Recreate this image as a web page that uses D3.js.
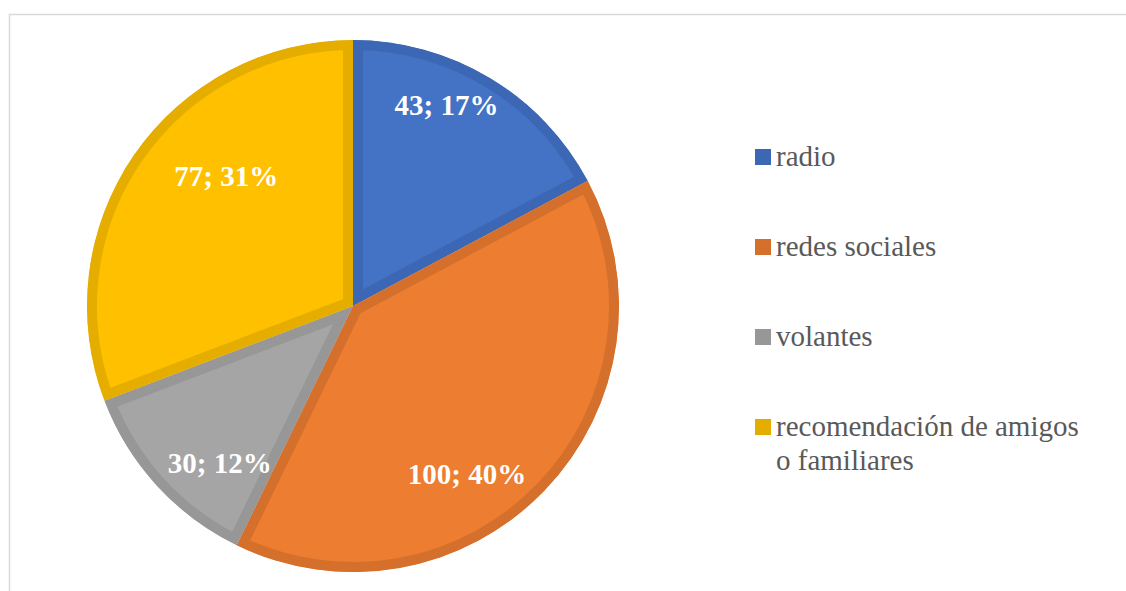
<!DOCTYPE html>
<html>
<head>
<meta charset="utf-8">
<script src="https://cdn.jsdelivr.net/npm/d3@7"></script>
<style>
  body { margin: 0; background: #fff; }
  svg { display: block; }
</style>
</head>
<body>
<svg id="chart"></svg>
<script>
// data
const categories = ["radio", "redes sociales", "volantes", "recomendación de amigos o familiares"];
const values = [43, 100, 30, 77];
const percents = ["17%", "40%", "12%", "31%"];
const legendLines = [["radio"], ["redes sociales"], ["volantes"], ["recomendación de amigos", "o familiares"]];

const fills = ["#4472C4", "#ED7D31", "#A5A5A5", "#FFC000"];
const strokes = ["#3C67B4", "#D5702C", "#979797", "#E5AD00"];

// label placement tweaks (angle shift in degrees, radius fraction), like Excel's best fit
const labelShift = [-6, 11.9, -7.2, 11.3];
const labelRadius = [0.833, 0.763, 0.774, 0.684];

const width = 1126, height = 591;
const cx = 353, cy = 306, r = 266;
const serif = "'Liberation Serif', 'Times New Roman', Times, serif";

const svg = d3.select("#chart").attr("width", width).attr("height", height);

// chart frame
svg.append("rect")
  .attr("x", 9.5).attr("y", 14.5)
  .attr("width", width + 20).attr("height", height + 20)
  .attr("fill", "none")
  .attr("stroke", "#d9d9d9")
  .attr("stroke-width", 1.5);

const pie = d3.pie().sort(null).value(d => d.value);
const arc = d3.arc().innerRadius(0).outerRadius(r);
const data = categories.map((c, i) => ({ name: c, value: values[i], i: i }));
const arcs = pie(data);

const g = svg.append("g").attr("transform", `translate(${cx},${cy})`);

const defs = svg.append("defs");
defs.selectAll("clipPath")
  .data(arcs)
  .join("clipPath")
  .attr("id", d => "clip" + d.data.i)
  .append("path")
  .attr("d", arc);

// slices with inner border (stroke clipped to the slice)
g.selectAll("path.slice")
  .data(arcs)
  .join("path")
  .attr("class", "slice")
  .attr("d", arc)
  .attr("fill", d => fills[d.data.i])
  .attr("stroke", d => strokes[d.data.i])
  .attr("stroke-width", 20)
  .attr("stroke-linejoin", "miter")
  .attr("clip-path", d => `url(#clip${d.data.i})`);

// data labels
g.selectAll("text.lbl")
  .data(arcs)
  .join("text")
  .attr("class", "lbl")
  .attr("transform", d => {
    const a = (d.startAngle + d.endAngle) / 2 + labelShift[d.data.i] * Math.PI / 180;
    const p = d3.pointRadial(a, r * labelRadius[d.data.i]);
    return `translate(${p[0]},${p[1]})`;
  })
  .attr("text-anchor", "middle")
  .attr("dy", "0.35em")
  .attr("fill", "#fff")
  .style("font-family", serif)
  .style("font-weight", "bold")
  .style("font-size", "29px")
  .text(d => `${d.data.value}; ${percents[d.data.i]}`);

// legend
const legend = svg.append("g").attr("transform", "translate(755,149)");
const rowGap = 90, lineGap = 34.5, box = 16;

const items = legend.selectAll("g")
  .data(categories)
  .join("g")
  .attr("transform", (d, i) => `translate(0,${i * rowGap})`);

items.append("rect")
  .attr("width", box).attr("height", box)
  .attr("fill", (d, i) => strokes[i]);

items.append("text")
  .attr("x", 21)
  .attr("y", 16.5)
  .attr("fill", "#595959")
  .style("font-family", serif)
  .style("font-size", "29px")
  .selectAll("tspan")
  .data((d, i) => legendLines[i])
  .join("tspan")
  .attr("x", 21)
  .attr("dy", (d, j) => j === 0 ? 0 : lineGap)
  .text(d => d);
</script>
</body>
</html>
